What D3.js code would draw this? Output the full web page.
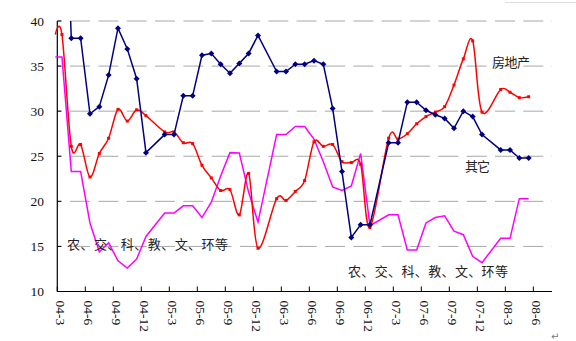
<!DOCTYPE html>
<html>
<head>
<meta charset="utf-8">
<script src="https://cdn.jsdelivr.net/npm/d3@7/dist/d3.min.js"></script>
<style>
  html, body { margin: 0; padding: 0; background: #fff; }
  svg { display: block; }
</style>
</head>
<body>
<svg id="chart" width="576" height="341"></svg>
<script>
// ---------- data ----------
const categories = [
  "04-3","04-4","04-5","04-6","04-7","04-8","04-9","04-10","04-11","04-12",
  "05-1","05-2","05-3","05-4","05-5","05-6","05-7","05-8","05-9","05-10","05-11","05-12",
  "06-1","06-2","06-3","06-4","06-5","06-6","06-7","06-8","06-9","06-10","06-11","06-12",
  "07-1","07-2","07-3","07-4","07-5","07-6","07-7","07-8","07-9","07-10","07-11","07-12",
  "08-1","08-2","08-3","08-4","08-5","08-6","08-7"
];
const tickLabels = ["04-3","04-6","04-9","04-12","05-3","05-6","05-9","05-12",
  "06-3","06-6","06-9","06-12","07-3","07-6","07-9","07-12","08-3","08-6"];
const yTicks = [10, 15, 20, 25, 30, 35, 40];

// 房地产
const realEstate = [
  38.5, 26.1, 26.3, 22.7, 25.3, 27.0, 30.2, 28.9, 30.15, 29.5,
  null, 27.7, 27.7, 26.5, 26.4, 24.0, 22.6, 21.2, 21.3, 18.5, 23.1, 14.8,
  null, 20.3, 20.1, 21.1, 22.3, 26.6, 26.1, 26.3, 24.4, 24.3, 24.1, 17.1,
  null, 27.0, 26.9, 27.5, 28.6, 29.4, 29.9, 30.5, 32.9, 35.8, 37.8, 29.9,
  null, 32.4, 32.1, 31.5, 31.6, null, null
];
// 其它
const other = [
  65, 38.1, 38.1, 29.7, 30.5, 34.0, 39.2, 36.9, 33.6, 25.4,
  null, 27.4, 27.4, 31.7, 31.7, 36.2, 36.4, 35.2, 34.2, 35.3, 36.4, 38.4,
  null, 34.4, 34.4, 35.2, 35.2, 35.6, 35.2, 30.3, 23.3, 16.0, 17.4, 17.4,
  null, 26.5, 26.5, 31.0, 31.0, 30.1, 29.6, 29.2, 28.1, 30.0, 29.4, 27.4,
  null, 25.7, 25.7, 24.8, 24.8, null, null
];
// 农、交、科、教、文、环等
const agriEtc = [
  36.0, 23.3, 23.3, 17.6, 14.4, 15.4, 13.4, 12.6, 13.6, 16.1,
  null, 18.7, 18.7, 19.5, 19.5, 18.2, 19.9, 22.8, 25.4, 25.35, 21.0, 17.7,
  null, 27.4, 27.4, 28.3, 28.3, 26.9, 24.4, 21.6, 21.2, 21.7, 25.3, 17.3,
  null, 18.5, 18.5, 14.6, 14.6, 17.6, 18.2, 18.4, 16.7, 16.3, 13.9, 13.2,
  null, 15.9, 15.9, 20.3, 20.3, null, null
];

const seriesNames = ["房地产", "其它", "农、交、科、教、文、环等"];
const seriesColors = ["#FF0000", "#000080", "#FF00FF"];

// ---------- layout ----------
const svg = d3.select("#chart");
svg.append("rect").attr("width", 576).attr("height", 341).attr("fill", "#fff");

const pLeft = 57.3, pRight = 552, pTop = 21, pBottom = 291.5;

const x = d3.scaleBand().domain(categories).range([pLeft, pRight]).padding(0);
const y = d3.scaleLinear().domain([10, 40]).range([pBottom, pTop]);
const cx = c => x(c) + x.bandwidth() / 2;

svg.append("defs").append("clipPath").attr("id", "plotclip")
  .append("rect").attr("x", pLeft - 5).attr("y", pTop).attr("width", pRight - pLeft + 10).attr("height", pBottom - pTop);

// gridlines
svg.append("g").selectAll("line").data(yTicks.filter(v => v > 10)).join("line")
  .attr("x1", pLeft).attr("x2", pRight)
  .attr("y1", d => y(d)).attr("y2", d => y(d))
  .attr("stroke", "#a8a8a8").attr("stroke-width", 1)
  .attr("stroke-dasharray", "20,8.33").attr("stroke-dashoffset", 15.6);

// axes
const axisG = svg.append("g");
axisG.append("line").attr("x1", pLeft).attr("x2", pLeft).attr("y1", pTop).attr("y2", pBottom)
  .attr("stroke", "#000").attr("stroke-width", 1.2);
axisG.append("line").attr("x1", pLeft).attr("x2", pRight).attr("y1", pBottom).attr("y2", pBottom)
  .attr("stroke", "#000").attr("stroke-width", 1.2);

axisG.selectAll("line.yt").data(yTicks).join("line").attr("class", "yt")
  .attr("x1", pLeft).attr("x2", pLeft + 4).attr("y1", d => y(d)).attr("y2", d => y(d))
  .attr("stroke", "#000");
axisG.selectAll("text.yl").data(yTicks).join("text").attr("class", "yl")
  .attr("x", 44).attr("y", d => y(d)).attr("text-anchor", "end")
  .attr("dominant-baseline", "central")
  .attr("font-family", "'Liberation Serif', 'Times New Roman', serif").attr("font-size", 13.5)
  .attr("fill", "#111").text(d => d);

const tickCats = categories.filter(c => tickLabels.includes(c));
axisG.selectAll("line.xt").data(tickCats).join("line").attr("class", "xt")
  .attr("x1", d => x(d)).attr("x2", d => x(d)).attr("y1", pBottom - 5).attr("y2", pBottom)
  .attr("stroke", "#000");
axisG.selectAll("text.xl").data(tickLabels).join("text").attr("class", "xl")
  .attr("transform", d => `translate(${cx(d) - 1},${pBottom + 9}) rotate(90)`)
  .attr("text-anchor", "start").attr("dominant-baseline", "central")
  .attr("font-family", "'Liberation Serif', 'Times New Roman', serif").attr("font-size", 13.5)
  .attr("fill", "#111").text(d => d);

// ---------- series ----------
function pts(values) {
  return categories.map((c, i) => ({ c, v: values[i] })).filter(d => d.v !== null);
}
const plot = svg.append("g").attr("clip-path", "url(#plotclip)");

function stubbed(p) {
  return [{ px: pLeft - 2, py: y(p[0].v) }].concat(p.map(d => ({ px: cx(d.c), py: y(d.v) })));
}

const pA = pts(agriEtc);
plot.append("path").datum(stubbed(pA))
  .attr("d", d3.line().x(d => d.px).y(d => d.py))
  .attr("fill", "none").attr("stroke", seriesColors[2]).attr("stroke-width", 1.5);

const pR = pts(realEstate);
plot.append("path").datum(stubbed(pR))
  .attr("d", d3.line().x(d => d.px).y(d => d.py).curve(d3.curveCardinal.tension(0)))
  .attr("fill", "none").attr("stroke", seriesColors[0]).attr("stroke-width", 1.5);
plot.selectAll("rect.rm").data(pR).join("rect").attr("class", "rm")
  .attr("x", d => cx(d.c) - 1.5).attr("y", d => y(d.v) - 1.5)
  .attr("width", 3).attr("height", 3).attr("fill", seriesColors[0]);

const pB = pts(other);
plot.append("path").datum(pB)
  .attr("d", d3.line().x(d => cx(d.c)).y(d => y(d.v)))
  .attr("fill", "none").attr("stroke", seriesColors[1]).attr("stroke-width", 1.5);
plot.selectAll("path.bm").data(pB).join("path").attr("class", "bm")
  .attr("transform", d => `translate(${cx(d.c)},${y(d.v)}) rotate(45)`)
  .attr("d", d3.symbol().type(d3.symbolSquare).size(18))
  .attr("fill", seriesColors[1]);

// ---------- labels ----------
const labFont = "'Noto Sans CJK SC', 'Noto Sans', sans-serif";
const labels = [
  { t: seriesNames[0], x: 492, y: 67, w: 38 },
  { t: seriesNames[1], x: 465, y: 171, w: 25 },
  { t: seriesNames[2], x: 67, y: 249, w: 161 },
  { t: seriesNames[2], x: 348, y: 276, w: 160 }
];
svg.append("g").selectAll("text").data(labels).join("text")
  .attr("x", d => d.x).attr("y", d => d.y)
  .attr("textLength", d => d.w).attr("lengthAdjust", "spacing")
  .attr("font-family", labFont).attr("font-size", 13).attr("fill", "#222")
  .text(d => d.t);

svg.append("line").attr("x1", 505).attr("x2", 576).attr("y1", 2.5).attr("y2", 2.5)
  .attr("stroke", "#ddd").attr("stroke-width", 1);
svg.append("text").attr("x", 551).attr("y", 340).attr("font-size", 10)
  .attr("font-family", "'DejaVu Sans', sans-serif").attr("fill", "#777").text("↵");
</script>
</body>
</html>
